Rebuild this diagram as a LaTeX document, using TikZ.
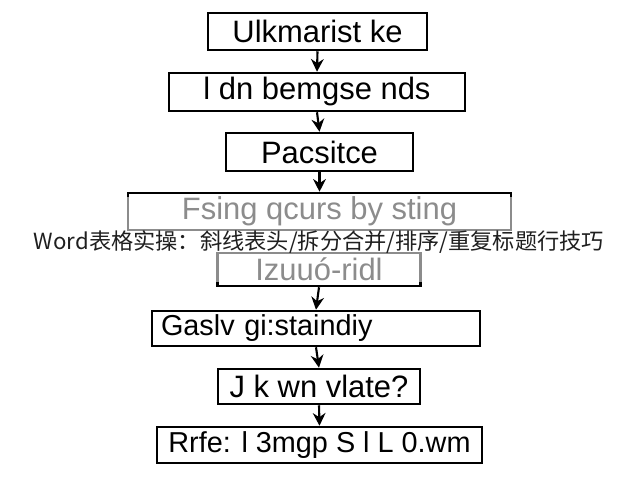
\documentclass[tikz,border=0pt]{standalone}
\usepackage{fontspec}
\setmainfont{Liberation Sans}
\newfontfamily\cjk{Noto Sans CJK SC}
\usetikzlibrary{arrows.meta}
\tikzset{
  flowbox/.style 2 args={draw=black, line width=1.8pt, minimum width=#1*0.025cm, minimum height=#2*0.025cm, inner sep=0pt, font=\fontsize{22}{26}\selectfont},
  smalltext/.style={font=\fontsize{20.5}{24}\selectfont},
  flowarrow/.style={draw=black, line width=1.5pt, -{Stealth[length=9pt,width=9pt]}}
}
\begin{document}
\begin{tikzpicture}[x=0.025cm, y=-0.025cm]
\useasboundingbox[fill=white] (0,0) rectangle (640,480);
\node[flowbox={219}{37}] (b1) at (317.5,31.5) {Ulkmarist ke};
\node[flowbox={296}{38}] (b2) at (317,92) {l dn bemgse nds};
\node[flowbox={187}{38}] (b3) at (319.5,152) {Pacsitce};
\node[flowbox={383}{37}] (b4) at (319.5,211.5) {Fsing qcurs by sting};
\node[flowbox={203}{33}] (b5) at (319,269.5) {Izuuó-ridl};
\node[flowbox={328}{35}, smalltext, align=left, text width=310*0.025cm] (b6) at (316,328.5) {Gaslv gi:staindiy};
\node[flowbox={202}{35}] (b7) at (319,386.5) {J k wn vlate?};
\node[flowbox={325}{36}, smalltext] (b8) at (319.5,445) {Rrfe: l 3mgp S l L 0.wm};
\draw[flowarrow] (b1.south) -- (b2.north);
\draw[flowarrow] (b2.south) -- (b3.north);
\draw[flowarrow] (b3.south) -- (b4.north);
\draw[flowarrow] (b5.south) -- (b6.north);
\draw[flowarrow] (b6.south) -- (b7.north);
\draw[flowarrow] (b7.south) -- (b8.north);
\fill[white, opacity=0.55] (118,197) rectangle (516,282);
\node[font=\cjk\fontsize{15.8}{18}\selectfont, text=black!88] (wm) at (319,242) {Word表格实操：斜线表头/拆分合并/排序/重复标题行技巧};
\end{tikzpicture}
\end{document}
